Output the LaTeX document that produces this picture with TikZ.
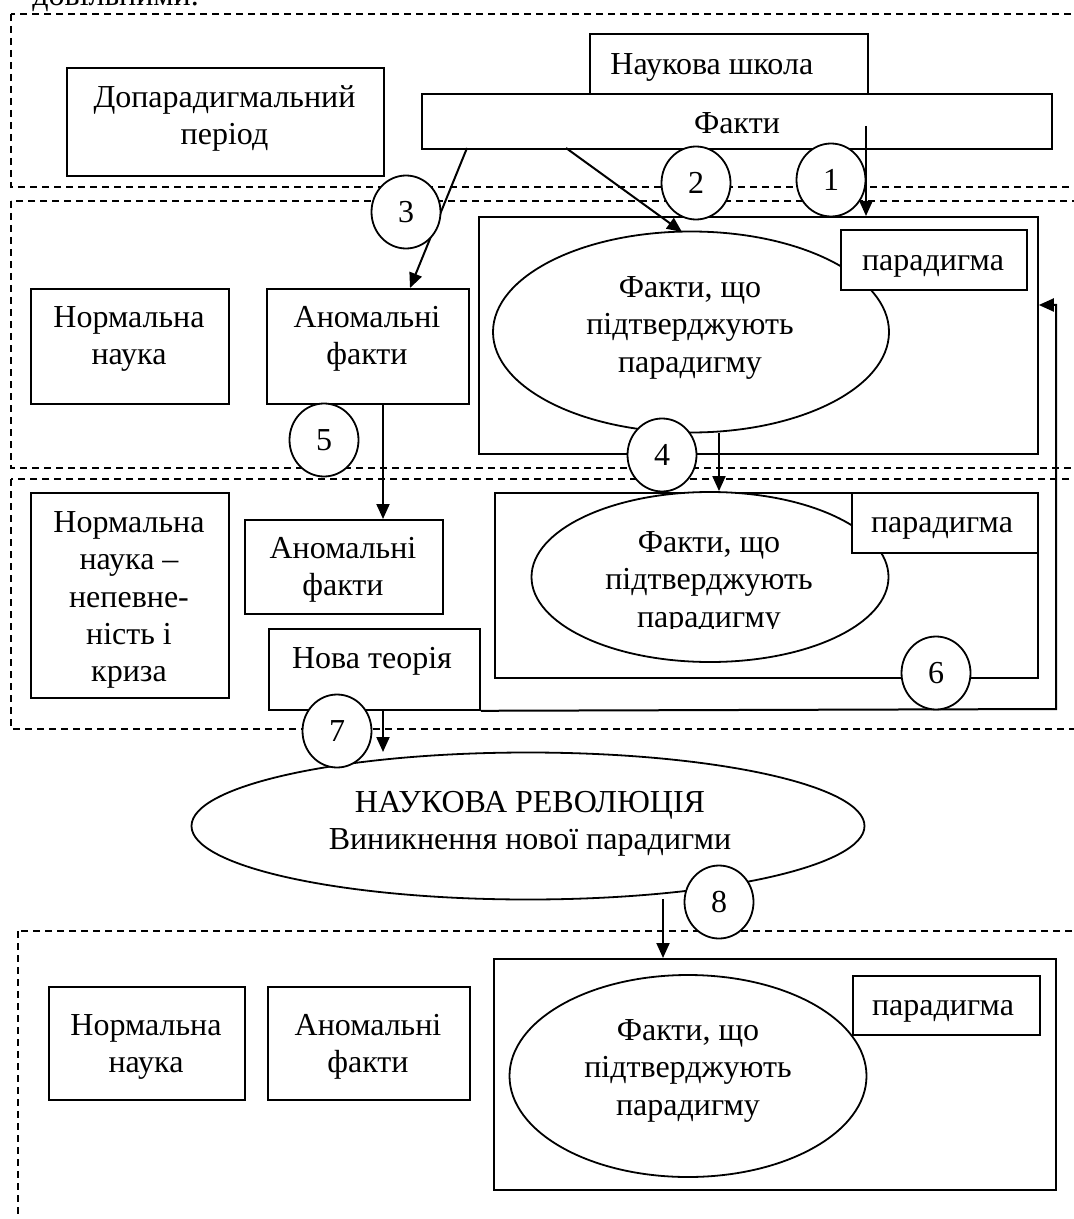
\documentclass[tikz,border=0pt]{standalone}
\usepackage{fontspec}
\setmainfont{Liberation Serif}
\usetikzlibrary{arrows.meta,shapes.geometric}
\newcommand\dtxt{\fontsize{16}{18.7}\selectfont}
\begin{document}
\begin{tikzpicture}[x=0.5pt,y=-0.5pt,
  zone/.style={draw, line width=0.8pt, dash pattern=on 3.5pt off 2.5pt},
  box/.style={draw, line width=0.9pt, fill=white, inner sep=0pt, anchor=north west},
  oval/.style={ellipse, draw, line width=0.9pt, fill=white, inner sep=0pt},
  num/.style={ellipse, draw, line width=0.9pt, fill=white, inner sep=0pt, minimum width=34.5pt, minimum height=36.5pt, font=\dtxt},
  lbl/.style={inner sep=0pt, align=center, anchor=north, font=\dtxt},
  arr/.style={line width=1pt, -{Triangle[length=7.5pt,width=6.5pt]}},
]
\useasboundingbox (0,0) rectangle (1073,1219);

% line of text cut off at the top edge, as in the reference
\node[inner sep=0pt, anchor=base west, font=\dtxt] (toptext) at (32,6) {довільними.};

% dashed zones
\draw[zone] (11,14) rectangle (1100,187);
\draw[zone] (11,201) rectangle (1100,468);
\draw[zone] (11,479) rectangle (1100,729);
\draw[zone] (18,931) rectangle (1100,1240);

% zone A
\node[box, minimum width=158.5pt, minimum height=54pt] (dop) at (66,67) {};
\node[lbl] (tdop) at (224.5,80.8) {\strut Допарадигмальний\\\strut період};
\node[box, minimum width=139pt, minimum height=30pt] (school) at (589,33) {};
\node[lbl, anchor=north west] (tschool) at (610,47.8) {\strut Наукова школа};
\node[box, minimum width=315pt, minimum height=27.5pt] (facts) at (421,93) {};
\node[lbl] (tfacts) at (737,106.8) {\strut Факти};

% zone B
\node[box, minimum width=99pt, minimum height=57.5pt] (norm1) at (30,288) {};
\node[lbl] (tnorm1) at (129,300.8) {\strut Нормальна\\\strut наука};
\node[box, minimum width=101pt, minimum height=57.5pt] (anom1) at (266,288) {};
\node[lbl] (tanom1) at (367,300.8) {\strut Аномальні\\\strut факти};
\node[box, minimum width=279.5pt, minimum height=118.5pt] (frame1) at (478,216) {};
\node[oval, minimum width=198pt, minimum height=100.5pt] (ell1) at (691,332) {};
\node[lbl] (tell1) at (690,270.8) {\strut Факти, що\\\strut підтверджують\\\strut парадигму};
\node[box, minimum width=93pt, minimum height=30pt] (par1) at (840,229) {};
\node[lbl] (tpar1) at (933,243.8) {\strut парадигма};

% zone C
\node[box, minimum width=99pt, minimum height=102.5pt] (norm2) at (30,492) {};
\node[lbl] (tnorm2) at (129,505.8) {\strut Нормальна\\\strut наука –\\\strut непевне-\\\strut ність і\\\strut криза};
\node[box, minimum width=99pt, minimum height=47pt] (anom2) at (244,519) {};
\node[lbl] (tanom2) at (343,531.8) {\strut Аномальні\\\strut факти};
\node[box, minimum width=105.5pt, minimum height=40.5pt] (newth) at (268,628) {};
\node[lbl] (tnewth) at (372,641.8) {\strut Нова теорія};
\node[box, minimum width=271.5pt, minimum height=92.5pt] (frame2) at (494,492) {};
\node[oval, minimum width=178.5pt, minimum height=85pt] (ell2) at (710,577) {};
\begin{scope}
\clip (520,480) rectangle (900,628);
\node[lbl] (tell2) at (709,525.8) {\strut Факти, що\\\strut підтверджують\\\strut парадигму};
\end{scope}
\node[box, minimum width=93pt, minimum height=30pt] (par2) at (851,492) {};
\node[lbl] (tpar2) at (942,505.8) {\strut парадигма};

% revolution
\node[oval, minimum width=336.5pt, minimum height=73.5pt] (rev) at (528,826) {};
\node[lbl] (trev) at (530,785.8) {\strut НАУКОВА РЕВОЛЮЦІЯ\\\strut Виникнення нової парадигми};

% zone D
\node[box, minimum width=281pt, minimum height=115.5pt] (frame3) at (493,958) {};
\node[oval, minimum width=178.5pt, minimum height=101pt] (ell3) at (688,1076) {};
\node[lbl] (tell3) at (688,1013.8) {\strut Факти, що\\\strut підтверджують\\\strut парадигму};
\node[box, minimum width=93.5pt, minimum height=29.5pt] (par3) at (852,975) {};
\node[lbl] (tpar3) at (943,988.8) {\strut парадигма};
\node[box, minimum width=98pt, minimum height=56.5pt] (norm3) at (48,986) {};
\node[lbl] (tnorm3) at (146,1008.8) {\strut Нормальна\\\strut наука};
\node[box, minimum width=101pt, minimum height=56.5pt] (anom3) at (267,986) {};
\node[lbl] (tanom3) at (368,1008.8) {\strut Аномальні\\\strut факти};

% connectors
\coordinate (s1) at (866,126);
\draw[arr] (s1) -- (s1 |- frame1.north);
\coordinate (s2) at (566,148);
\coordinate (e2) at (682,232);
\draw[arr] (s2) -- (e2);
\coordinate (s3) at (467,148);
\coordinate (e3) at (410,288);
\draw[arr] (s3) -- (e3);
\coordinate (s4) at (719,433);
\draw[arr] (s4) -- (s4 |- ell2.north);
\coordinate (s5) at (383,403);
\draw[arr] (s5) -- (s5 |- anom2.north);
\coordinate (f1) at (1056,709);
\coordinate (f2) at (1056,305);
\draw[arr] (newth.south east) -- (f1) -- (f2) -- (f2 -| frame1.east);
\coordinate (s7) at (383,709);
\coordinate (e7) at (383,752);
\draw[arr] (s7) -- (e7);
\coordinate (s8) at (663,899);
\draw[arr] (s8) -- (s8 |- frame3.north);

% numbered circles
\node[num] (c1) at (831,180) {1};
\node[num] (c2) at (696,183) {2};
\node[num] (c3) at (406,212) {3};
\node[num] (c4) at (662,455) {4};
\node[num] (c5) at (324,440) {5};
\node[num] (c6) at (936,673) {6};
\node[num] (c7) at (337,731) {7};
\node[num] (c8) at (719,902) {8};
\end{tikzpicture}
\end{document}
